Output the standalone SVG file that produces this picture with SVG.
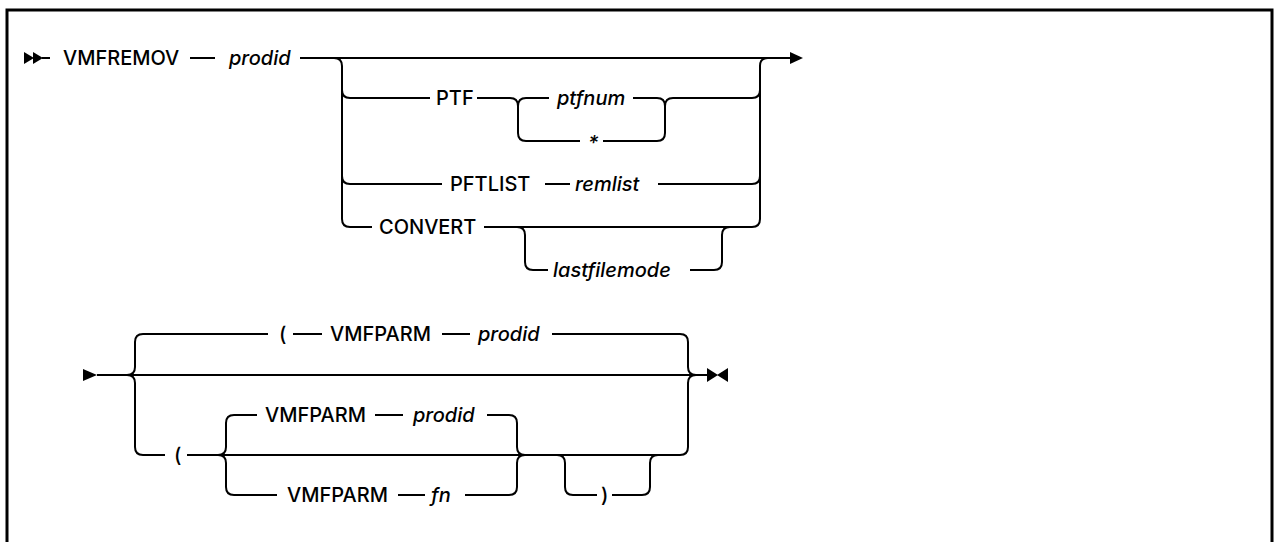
<svg xmlns="http://www.w3.org/2000/svg" width="1274" height="542" viewBox="0 0 1274 542">
<style>
.t{font-family:Inter,"Liberation Sans",Arial,sans-serif;font-size:20px;font-weight:500;fill:#000}
.i{font-style:italic}
.r{fill:none;stroke:#000;stroke-width:2}
.a{fill:#000;stroke:none}
.frame{fill:none;stroke:#000;stroke-width:3}
</style>
<rect x="0" y="0" width="1274" height="542" fill="#fff"/>
<path class="frame" d="M7,545 V10 H1272 V545"/>
<g id="connectors">
  <polygon class="a" points="24,52 34,58 24,64"/>
  <polygon class="a" points="33,52 43,58 33,64"/>
  <path class="r" d="M42,58 H50"/>
  <path class="r" d="M190,58 H215"/>
  <path class="r" d="M300,58 H790"/>
  <polygon class="a" points="790,52 803,58 790,64"/>
  <path class="r" d="M334,58 Q342,58 342,66 V219 Q342,227 350,227 H372"/>
  <path class="r" d="M342,90 Q342,98 350,98 H430"/>
  <path class="r" d="M342,176 Q342,184 350,184 H442"/>
  <path class="r" d="M477,98 H510 Q518,98 518,106 V133 Q518,141 526,141 H580"/>
  <path class="r" d="M518,106 Q518,98 526,98 H549"/>
  <path class="r" d="M633,98 H657 Q665,98 665,106"/>
  <path class="r" d="M603,141 H657 Q665,141 665,133 V106 Q665,98 673,98 H752 Q760,98 760,90"/>
  <path class="r" d="M545,184 H570"/>
  <path class="r" d="M658,184 H752 Q760,184 760,176"/>
  <path class="r" d="M484,227 H752 Q760,227 760,219 V66 Q760,58 768,58"/>
  <path class="r" d="M517,227 Q525,227 525,235 V262 Q525,270 533,270 H548"/>
  <path class="r" d="M690,270 H714 Q722,270 722,262 V235 Q722,227 730,227"/>
  <polygon class="a" points="83,369 97,375 83,381"/>
  <path class="r" d="M97,375 H707"/>
  <path class="r" d="M127,375 Q135,375 135,367 V342 Q135,334 143,334 H268"/>
  <path class="r" d="M127,375 Q135,375 135,383 V447 Q135,455 143,455 H165"/>
  <path class="r" d="M293,334 H322"/>
  <path class="r" d="M442,334 H470"/>
  <path class="r" d="M552,334 H680 Q688,334 688,342 V367 Q688,375 696,375"/>
  <path class="r" d="M187,455 H680 Q688,455 688,447 V383 Q688,375 696,375"/>
  <path class="r" d="M218,455 Q226,455 226,447 V423 Q226,415 234,415 H257"/>
  <path class="r" d="M218,455 Q226,455 226,463 V487 Q226,495 234,495 H277"/>
  <path class="r" d="M375,415 H403"/>
  <path class="r" d="M487,415 H509 Q517,415 517,423 V447 Q517,455 525,455"/>
  <path class="r" d="M398,495 H425"/>
  <path class="r" d="M465,495 H509 Q517,495 517,487 V463 Q517,455 525,455"/>
  <path class="r" d="M557,455 Q565,455 565,463 V487 Q565,495 573,495 H597"/>
  <path class="r" d="M612,495 H642 Q650,495 650,487 V463 Q650,455 658,455"/>
  <polygon class="a" points="707,368 718,375 707,382"/>
  <polygon class="a" points="728,368 717,375 728,382"/>
</g>
<g id="n-vmfremov"><text class="t" x="63" y="65">VMFREMOV</text></g>
<g id="n-prodid1"><text class="t i" x="229" y="65">prodid</text></g>
<g id="n-ptf"><text class="t" x="436" y="105">PTF</text></g>
<g id="n-ptfnum"><text class="t i" x="557" y="105">ptfnum</text></g>
<g id="n-star"><text class="t i" x="588" y="150">*</text></g>
<g id="n-pftlist"><text class="t" x="450" y="191">PFTLIST</text></g>
<g id="n-remlist"><text class="t i" x="575" y="191">remlist</text></g>
<g id="n-convert"><text class="t" x="379" y="234">CONVERT</text></g>
<g id="n-lastfilemode"><text class="t i" x="553" y="277">lastfilemode</text></g>
<g id="n-lparen1"><text class="t" x="279" y="341">(</text></g>
<g id="n-vmfparm1"><text class="t" x="330" y="341">VMFPARM</text></g>
<g id="n-prodid2"><text class="t i" x="478" y="341">prodid</text></g>
<g id="n-lparen2"><text class="t" x="174" y="462">(</text></g>
<g id="n-vmfparm2"><text class="t" x="265" y="422">VMFPARM</text></g>
<g id="n-prodid3"><text class="t i" x="413" y="422">prodid</text></g>
<g id="n-vmfparm3"><text class="t" x="287" y="502">VMFPARM</text></g>
<g id="n-fn"><text class="t i" x="431" y="502">fn</text></g>
<g id="n-rparen"><text class="t" x="601" y="502">)</text></g>
</svg>
